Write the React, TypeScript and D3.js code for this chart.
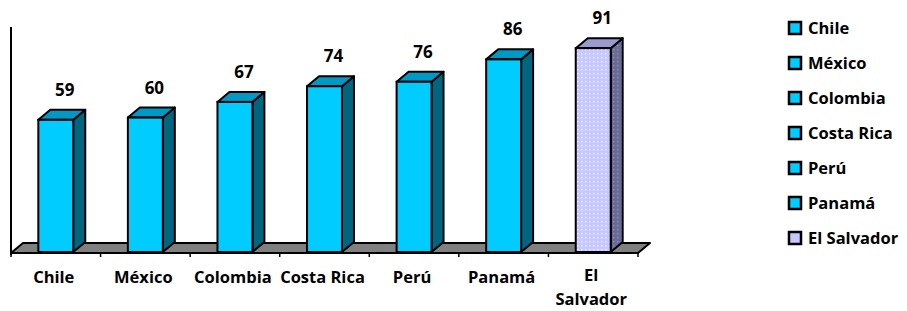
import React, { useEffect, useRef } from "react";
import * as d3 from "d3";

const countries = ["Chile", "México", "Colombia", "Costa Rica", "Perú", "Panamá", "El Salvador"];
const values = [59, 60, 67, 74, 76, 86, 91];
const axisLabels = [["Chile"], ["México"], ["Colombia"], ["Costa Rica"], ["Perú"], ["Panamá"], ["El", "Salvador"]];

const FONT = "'Open Sans', 'Noto Sans', sans-serif";

export default function App() {
  const ref = useRef<SVGSVGElement>(null);

  useEffect(() => {
    const svg = d3.select(ref.current);
    svg.selectAll("*").remove();

    const left = 11;
    const right = 638;
    const base = 252;
    const dx = 12;
    const dy = 10;

    const x = d3
      .scaleBand()
      .domain(countries)
      .range([left, right])
      .paddingInner(0.61)
      .paddingOuter(0.305);
    const y = d3.scaleLinear().domain([0, 100]).range([base, 28]);

    // patterns for the highlighted bar
    const defs = svg.append("defs");
    const front = defs
      .append("pattern")
      .attr("id", "dotFront")
      .attr("width", 4)
      .attr("height", 4)
      .attr("patternUnits", "userSpaceOnUse");
    front.append("rect").attr("width", 4).attr("height", 4).attr("fill", "#c8c8ff");
    front.append("rect").attr("x", 1).attr("y", 1).attr("width", 1.5).attr("height", 1.5).attr("fill", "#ececff");

    const side = defs
      .append("pattern")
      .attr("id", "dotSide")
      .attr("width", 4)
      .attr("height", 4)
      .attr("patternUnits", "userSpaceOnUse");
    side.append("rect").attr("width", 4).attr("height", 4).attr("fill", "#6a6a96");
    side.append("rect").attr("x", 1).attr("y", 1).attr("width", 1.5).attr("height", 1.5).attr("fill", "#8a8ab4");

    const colors = (c: string) =>
      c === "El Salvador"
        ? { front: "url(#dotFront)", side: "url(#dotSide)", top: "#9a9acc" }
        : { front: "#00ccff", side: "#006680", top: "#0099c6" };

    // floor
    svg
      .append("polygon")
      .attr("points", [[left, base + 1], [left + dx, base + 1 - dy], [right + dx, base + 1 - dy], [right, base + 1]].join(" "))
      .attr("fill", "#808080")
      .attr("stroke", "#000")
      .attr("stroke-width", 2)
      .attr("stroke-linejoin", "round");

    // axes
    svg
      .append("line")
      .attr("x1", left)
      .attr("x2", left)
      .attr("y1", 27)
      .attr("y2", base + 3)
      .attr("stroke", "#000")
      .attr("stroke-width", 2);
    const ticks = d3.range(countries.length + 1).map((i) => left + i * x.step());
    svg
      .selectAll(".tick")
      .data(ticks)
      .enter()
      .append("line")
      .attr("x1", (d) => d)
      .attr("x2", (d) => d)
      .attr("y1", base + 1)
      .attr("y2", base + 5)
      .attr("stroke", "#000")
      .attr("stroke-width", 1.5);

    // bars
    const bars = svg
      .selectAll(".bar")
      .data(countries)
      .enter()
      .append("g");
    bars.each(function (c, i) {
      const g = d3.select(this);
      const x0 = x(c)!;
      const x1 = x0 + x.bandwidth();
      const top = y(values[i]);
      const col = colors(c);
      g.append("polygon")
        .attr("points", [[x1, top], [x1 + dx, top - dy], [x1 + dx, base - dy], [x1, base]].join(" "))
        .attr("fill", col.side)
        .attr("stroke", "#000")
        .attr("stroke-width", 2)
        .attr("stroke-linejoin", "round");
      g.append("polygon")
        .attr("points", [[x0, top], [x0 + dx, top - dy], [x1 + dx, top - dy], [x1, top]].join(" "))
        .attr("fill", col.top)
        .attr("stroke", "#000")
        .attr("stroke-width", 2)
        .attr("stroke-linejoin", "round");
      g.append("rect")
        .attr("x", x0)
        .attr("y", top)
        .attr("width", x.bandwidth())
        .attr("height", base - top)
        .attr("fill", col.front)
        .attr("stroke", "#000")
        .attr("stroke-width", 2);
      g.append("text")
        .attr("x", x0 + x.bandwidth() / 2 + dx / 2 + 3)
        .attr("y", top - dy - 14)
        .attr("text-anchor", "middle")
        .attr("font-family", FONT)
        .attr("font-weight", "bold")
        .attr("font-size", 17)
        .text(values[i]);
    });

    // category labels
    svg
      .selectAll(".cat")
      .data(countries)
      .enter()
      .append("text")
      .attr("text-anchor", "middle")
      .attr("font-family", FONT)
      .attr("font-weight", "bold")
      .attr("font-size", 16.5)
      .each(function (c, i) {
        const t = d3.select(this);
        const lines = axisLabels[i];
        lines.forEach((line, j) => {
          t.append("tspan")
            .attr("x", x(c)! + x.bandwidth() / 2 - 2)
            .attr("y", (lines.length > 1 ? 281 : 283) + j * 24)
            .text(line);
        });
      });

    // legend
    const legend = svg
      .selectAll(".legend")
      .data(countries)
      .enter()
      .append("g")
      .attr("transform", (d, i) => `translate(789,${28 + i * 35})`);
    legend
      .append("rect")
      .attr("x", 0)
      .attr("y", -6)
      .attr("width", 12)
      .attr("height", 12)
      .attr("fill", (d) => (d === "El Salvador" ? "#c8c8ff" : "#00ccff"))
      .attr("stroke", "#000")
      .attr("stroke-width", 2.5);
    legend
      .append("text")
      .attr("x", 19)
      .attr("y", 6)
      .attr("font-family", FONT)
      .attr("font-weight", "bold")
      .attr("font-size", 16.5)
      .text((d) => d);
  }, []);

  return (
    <svg
      ref={ref}
      width={907}
      height={311}
      style={{ position: "absolute", left: 0, top: 0, background: "#fff" }}
    ></svg>
  );
}
